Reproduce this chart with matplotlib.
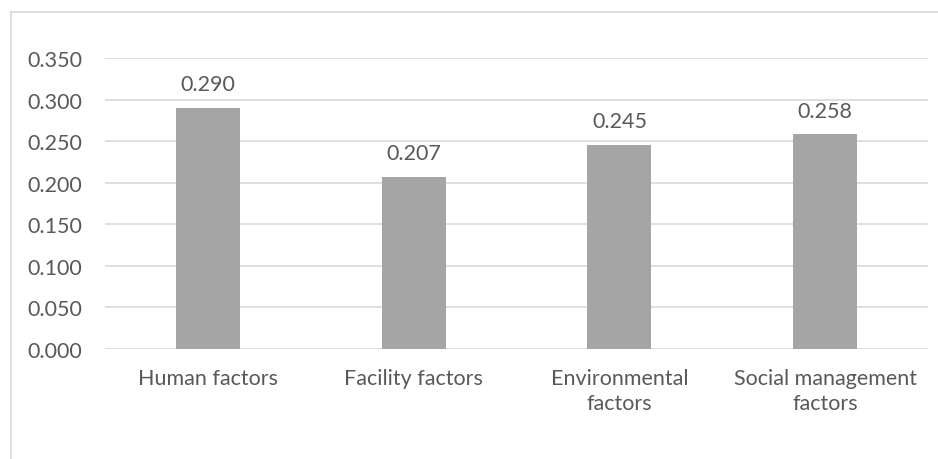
import matplotlib
matplotlib.use("Agg")
import matplotlib.pyplot as plt
from matplotlib.lines import Line2D

categories = ["Human factors", "Facility factors", "Environmental\nfactors", "Social management\nfactors"]
values = [0.290, 0.207, 0.245, 0.258]
yticks = [0.000, 0.050, 0.100, 0.150, 0.200, 0.250, 0.300, 0.350]

TEXT = "#595959"
GRID = "#D9D9D9"
BAR = "#A5A5A5"
FS = 15.5

plt.rcParams["font.family"] = ["Lato", "DejaVu Sans"]

W, H = 938, 460
fig = plt.figure(figsize=(W / 100, H / 100), dpi=100)
fig.patch.set_facecolor("white")

# chart frame (left and top edges)
fig.add_artist(Line2D([10.5 / W, 10.5 / W], [0, 1 - 12.5 / H], transform=fig.transFigure,
                      color=GRID, lw=1.2))
fig.add_artist(Line2D([10.5 / W, 1], [1 - 12.5 / H, 1 - 12.5 / H], transform=fig.transFigure,
                      color=GRID, lw=1.2))

ax = fig.add_axes([105 / W, 1 - 350 / H, (928 - 105) / W, (350 - 59) / H])
x = range(len(categories))
ax.bar(x, values, width=0.31, color=BAR, zorder=3)
ax.set_xlim(-0.5, len(categories) - 0.5)
ax.set_ylim(0, 0.35)
ax.set_yticks(yticks)
ax.set_yticklabels([f"{v:.3f}" for v in yticks])
ax.set_xticks(list(x))
ax.set_xticklabels(categories, linespacing=1.3, va="top")
ax.yaxis.grid(True, color=GRID, lw=1.2, zorder=0)
ax.set_axisbelow(True)
for s in ax.spines.values():
    s.set_visible(False)
ax.tick_params(axis="both", length=0, labelsize=FS, labelcolor=TEXT)
ax.tick_params(axis="y", pad=16.5)
ax.tick_params(axis="x", pad=14)

for xi, v in zip(x, values):
    ax.annotate(f"{v:.3f}", (xi, v), xytext=(0, 10), textcoords="offset points",
                ha="center", va="bottom", fontsize=FS, color=TEXT)

fig.savefig("out.png", dpi=100, facecolor="white")
